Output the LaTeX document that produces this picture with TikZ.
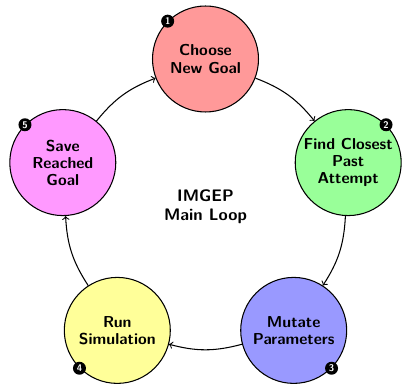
\documentclass[tikz,border=0pt]{standalone}
\usetikzlibrary{positioning}
\definecolor{goalfill}{RGB}{255,153,153}
\definecolor{findfill}{RGB}{153,255,153}
\definecolor{mutatefill}{RGB}{153,153,255}
\definecolor{runfill}{RGB}{255,255,153}
\definecolor{savefill}{RGB}{255,153,255}
\begin{document}
\begin{tikzpicture}[x=0.02cm, y=-0.02cm,
  stage/.style={circle, draw=black, semithick, minimum size=2.12cm, inner sep=0pt,
    align=center, font=\sffamily\bfseries\fontsize{9}{9.7}\selectfont},
  badge/.style={circle, fill=black, text=white, minimum size=0.26cm, inner sep=0pt,
    font=\sffamily\bfseries\fontsize{5.5}{5.5}\selectfont},
  flow/.style={->, semithick, bend left=15}]
\useasboundingbox (0,0) rectangle (405,384);

% the five stages of the loop
\node[stage, fill=goalfill]   (goal)   at (205.5, 59)    {Choose\\New Goal};
\node[stage, fill=findfill]   (find)   at (348.2, 162.6) {Find Closest\\Past\\Attempt};
\node[stage, fill=mutatefill] (mutate) at (293.7, 330.4) {Mutate\\Parameters};
\node[stage, fill=runfill]    (run)    at (117.3, 330.4) {Run\\Simulation};
\node[stage, fill=savefill]   (save)   at (62.8, 162.6)  {Save\\Reached\\Goal};

% step numbers on the rims
\node[badge] (b1) at (goal.north west)   {1};
\node[badge] (b2) at (find.north east)   {2};
\node[badge] (b3) at (mutate.south east) {3};
\node[badge] (b4) at (run.south west)    {4};
\node[badge] (b5) at (save.north west)   {5};

% title in the middle
\node[align=center, font=\sffamily\bfseries\fontsize{9.5}{10.8}\selectfont] (title) at (205.5, 207) {IMGEP\\Main Loop};

% cycle arrows
\draw[flow] (goal) to (find);
\draw[flow] (find) to (mutate);
\draw[flow] (mutate) to (run);
\draw[flow] (run) to (save);
\draw[flow] (save) to (goal);
\end{tikzpicture}
\end{document}
